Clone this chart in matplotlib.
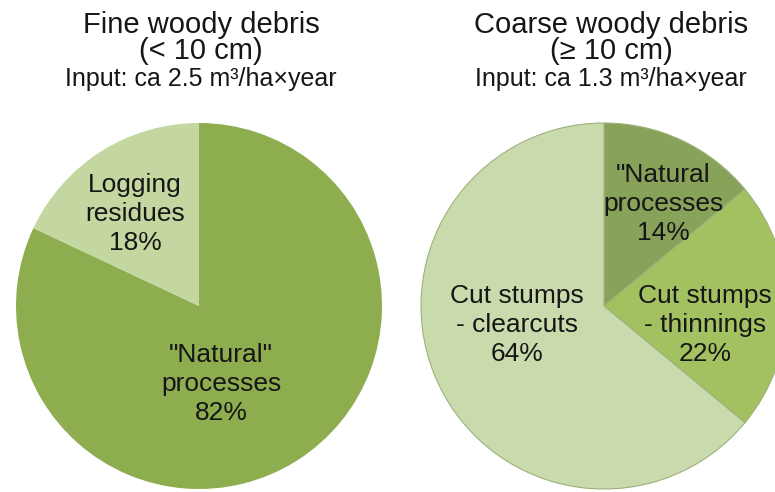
import matplotlib.pyplot as plt

plt.rcParams['font.family'] = ['Liberation Sans', 'DejaVu Sans']

# fine woody debris (< 10 cm)
fine_labels = ['"Natural"\nprocesses\n82%', 'Logging\nresidues\n18%']
fine_values = [82, 18]
fine_colors = ['#8DAD4F', '#C4D7A0']

# coarse woody debris (>= 10 cm)
coarse_labels = ['"Natural\nprocesses\n14%', 'Cut stumps\n- thinnings\n22%', 'Cut stumps\n- clearcuts\n64%']
coarse_values = [14, 22, 64]
coarse_colors = ['#88A25A', '#A3C160', '#C9DBAC']

titles = ['Fine woody debris', 'Coarse woody debris']
sizes = ['(< 10 cm)', '(\u2265 10 cm)']
inputs = ['Input: ca 2.5 m\u00b3/ha\u00d7year', 'Input: ca 1.3 m\u00b3/ha\u00d7year']

W, H = 775, 492
fig = plt.figure(figsize=(W / 100, H / 100), dpi=100)
ax = fig.add_axes([0, 0, 1, 1])

R = 183
ax.pie(fine_values, colors=fine_colors, startangle=90, counterclock=False,
       center=(199, H - 306), radius=R, wedgeprops=dict(linewidth=0))
ax.pie(coarse_values, colors=coarse_colors, startangle=90, counterclock=False,
       center=(604, H - 306), radius=R,
       wedgeprops=dict(linewidth=0.8, edgecolor='#9DB27A'))
ax.set_xlim(0, W)
ax.set_ylim(0, H)
ax.set_aspect('auto')
ax.axis('off')

tc = '#161616'
# titles
for x, t, s, inp in zip([201, 611], titles, sizes, inputs):
    ax.text(x, H - 33, t, ha='center', va='baseline', fontsize=21, color=tc)
    ax.text(x, H - 59, s, ha='center', va='baseline', fontsize=21, color=tc)
    ax.text(x, H - 86, inp, ha='center', va='baseline', fontsize=18, color=tc)

# slice labels
lab_pos_fine = [(221, 362), (135, 192)]
lab_pos_coarse = [(663, 182), (705, 303), (517, 303)]
for (x, y), lab in zip(lab_pos_fine + lab_pos_coarse, fine_labels + coarse_labels):
    for i, line in enumerate(lab.split('\n')):
        ax.text(x, H - y - i * 29, line, ha='center', va='baseline',
                fontsize=19, color=tc)

fig.savefig('out.png', dpi=100, facecolor='white')
